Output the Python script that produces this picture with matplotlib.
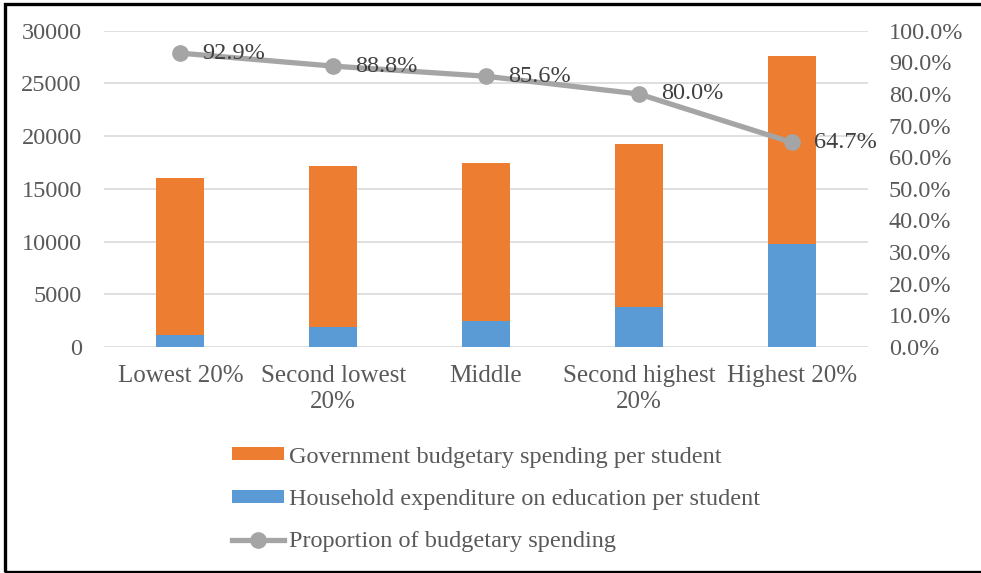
import matplotlib
matplotlib.use("Agg")
import matplotlib.pyplot as plt
from matplotlib.ticker import FuncFormatter, MultipleLocator
from matplotlib.patches import Rectangle, Patch
from matplotlib.lines import Line2D

plt.rcParams['font.family'] = ['Liberation Serif', 'DejaVu Serif']

categories = ["Lowest 20%", "Second lowest\n20%", "Middle", "Second highest\n20%", "Highest 20%"]
government = [14900, 15270, 14940, 15380, 17860]
household = [1140, 1930, 2510, 3840, 9740]
proportion = [92.9, 88.8, 85.6, 80.0, 64.7]
proportion_labels = ["92.9%", "88.8%", "85.6%", "80.0%", "64.7%"]

ORANGE = "#ED7D31"
BLUE = "#5B9BD5"
GREY_LINE = "#A5A5A5"
TICK_COLOR = "#595959"
LABEL_COLOR = "#404040"
FS = 17.5

W, H = 981, 573
fig = plt.figure(figsize=(W / 100, H / 100), dpi=100)
ax = fig.add_axes([104 / W, 1 - 347 / H, 764 / W, 316.3 / H])

x = list(range(len(categories)))
bw = 0.314
ax.bar(x, household, width=bw, color=BLUE, zorder=2)
ax.bar(x, government, width=bw, bottom=household, color=ORANGE, zorder=2)

ax.set_xlim(-0.5, len(categories) - 0.5)
ax.set_ylim(0, 30000)
ax.yaxis.set_major_locator(MultipleLocator(5000))
ax.grid(axis='y', color="#D9D9D9", linewidth=1.2, zorder=0)
ax.set_axisbelow(True)
for s in ax.spines.values():
    s.set_visible(False)
ax.tick_params(axis='y', length=0, pad=16, labelsize=FS, labelcolor=TICK_COLOR)
ax.tick_params(axis='x', length=0, pad=13, labelsize=18, labelcolor=TICK_COLOR)
ax.set_xticks(x)
ax.set_xticklabels(categories, linespacing=1.25)

ax2 = ax.twinx()
ax2.set_ylim(0, 100)
ax2.yaxis.set_major_locator(MultipleLocator(10))
ax2.yaxis.set_major_formatter(FuncFormatter(lambda v, p: f"{v:.1f}%"))
for s in ax2.spines.values():
    s.set_visible(False)
ax2.tick_params(axis='y', length=0, pad=15, labelsize=FS, labelcolor=TICK_COLOR)
ax2.plot(x, proportion, color=GREY_LINE, linewidth=3.8, marker='o',
         markersize=11, zorder=3, solid_capstyle='round')
for xi, yi, lab in zip(x, proportion, proportion_labels):
    ax2.annotate(lab, (xi, yi), xytext=(16, 0), textcoords='offset points',
                 ha='left', va='center', fontsize=FS, color=LABEL_COLOR, zorder=4)

handles = [
    Patch(facecolor=ORANGE, edgecolor='none'),
    Patch(facecolor=BLUE, edgecolor='none'),
    Line2D([0], [0], color=GREY_LINE, linewidth=3.8, marker='o', markersize=11),
]
labels = [
    "Government budgetary spending per student",
    "Household expenditure on education per student",
    "Proportion of budgetary spending",
]
leg = fig.legend(handles, labels, loc='center left',
                 bbox_to_anchor=(232 / W, 1 - 499.5 / H), frameon=False,
                 fontsize=FS, handlelength=2.15, handleheight=0.45,
                 handletextpad=0.2, labelspacing=0.88, borderpad=0,
                 borderaxespad=0)
for t in leg.get_texts():
    t.set_color(TICK_COLOR)

# outer frame
fig.patches.append(Rectangle((4.5 / W, 1.5 / H), (W + 10) / W, (H - 5) / H,
                             transform=fig.transFigure, fill=False,
                             edgecolor='black', linewidth=2.4, zorder=10))

fig.savefig("out.png", dpi=100)
